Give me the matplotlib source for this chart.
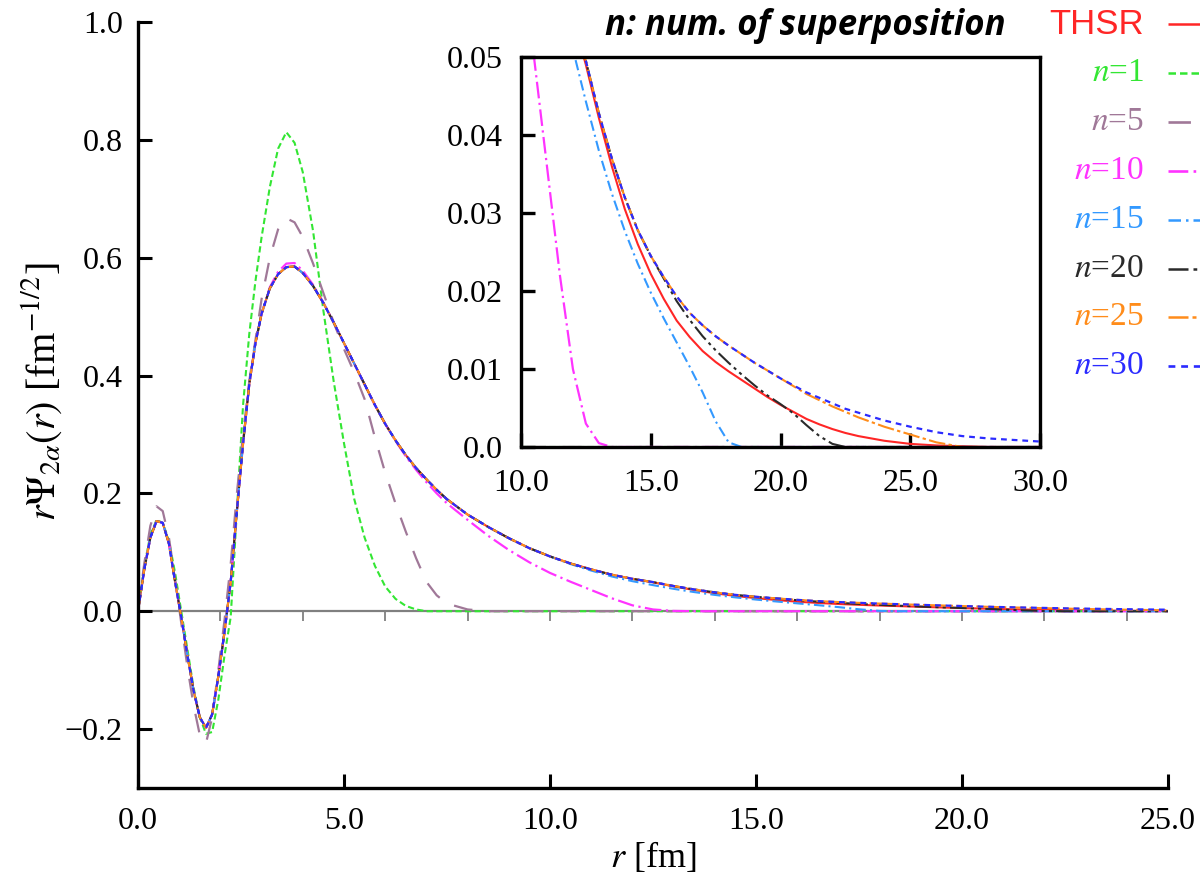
import numpy as np
import matplotlib
matplotlib.use('Agg')
import matplotlib.pyplot as plt
from matplotlib.lines import Line2D

# ---------------- data ----------------
R = [0, 0.15, 0.3, 0.45, 0.6, 0.75, 0.9, 1.05, 1.2, 1.35, 1.5, 1.65, 1.8, 1.95, 2.1, 2.25, 2.4, 2.55, 2.7, 2.85,
     3.0, 3.2, 3.4, 3.6, 3.8,
     4.0, 4.25, 4.5, 4.75, 5.0, 5.25, 5.5, 5.75, 6.0, 6.25, 6.5, 6.75, 7.0, 7.25, 7.5,
     8.0, 8.5, 9.0, 9.5, 10.0, 10.5, 11.0, 11.5, 12.0, 12.5, 13.0, 13.5, 14.0, 14.5, 15.0, 15.5, 16.0, 16.5,
     17.0, 17.5, 18.0, 18.5, 19.0, 19.5, 20.0, 20.5, 21.0, 21.5, 22.0, 22.5, 23.0,
     24.0, 25.0, 26.0, 27.0, 28.0, 29.0, 30.0]

thsr = [0, 0.07, 0.125, 0.153, 0.15, 0.115, 0.05, -0.01, -0.075, -0.135, -0.18, -0.198, -0.175, -0.11, -0.035, 0.05, 0.17, 0.285, 0.385, 0.455,
        0.505, 0.548, 0.572, 0.584, 0.585,
        0.574, 0.552, 0.523, 0.49, 0.455, 0.42, 0.385, 0.35, 0.318, 0.29, 0.265, 0.243, 0.224, 0.206, 0.19,
        0.164, 0.143, 0.124, 0.107, 0.093, 0.081, 0.071, 0.062, 0.055, 0.049, 0.0422, 0.036, 0.0305, 0.026, 0.0222, 0.019, 0.0162, 0.0141,
        0.0123, 0.0109, 0.0097, 0.0086, 0.0075, 0.0064, 0.0054, 0.0045, 0.0036, 0.0029, 0.0023, 0.0018, 0.0014,
        0.0008, 0.0004, 0.0002, 0.0001, 0, 0, 0]

n1 = [0, 0.075, 0.13, 0.155, 0.15, 0.12, 0.065, 0.0, -0.065, -0.13, -0.18, -0.208, -0.205, -0.15, -0.075, -0.01, 0.17, 0.35, 0.47, 0.56,
      0.635, 0.72, 0.785, 0.813, 0.795,
      0.745, 0.645, 0.51, 0.39, 0.285, 0.19, 0.125, 0.077, 0.042, 0.021, 0.009, 0.003, 0, 0, 0,
      0, 0, 0, 0, 0, 0, 0, 0, 0, 0, 0, 0, 0, 0, 0, 0, 0, 0,
      0, 0, 0, 0, 0, 0, 0, 0, 0, 0, 0, 0, 0,
      0, 0, 0, 0, 0, 0, 0]

n5 = [0, 0.08, 0.145, 0.178, 0.17, 0.125, 0.055, -0.02, -0.095, -0.16, -0.21, -0.224, -0.18, -0.1, -0.015, 0.08, 0.2, 0.3, 0.39, 0.46,
      0.53, 0.6, 0.648, 0.667, 0.66,
      0.635, 0.59, 0.54, 0.49, 0.445, 0.405, 0.36, 0.295, 0.235, 0.183, 0.135, 0.09, 0.05, 0.027, 0.013,
      0.003, 0, 0, 0, 0, 0, 0, 0, 0, 0, 0, 0, 0, 0, 0, 0, 0, 0,
      0, 0, 0, 0, 0, 0, 0, 0, 0, 0, 0, 0, 0,
      0, 0, 0, 0, 0, 0, 0]

n10 = [0, 0.07, 0.125, 0.153, 0.15, 0.115, 0.05, -0.01, -0.075, -0.135, -0.18, -0.198, -0.175, -0.11, -0.035, 0.05, 0.17, 0.285, 0.385, 0.455,
       0.505, 0.55, 0.576, 0.59, 0.591,
       0.578, 0.554, 0.524, 0.49, 0.455, 0.42, 0.385, 0.35, 0.318, 0.289, 0.263, 0.24, 0.219, 0.2, 0.183,
       0.155, 0.128, 0.104, 0.083, 0.065, 0.05, 0.036, 0.022, 0.01, 0.003, 0.0005, 0, 0, 0, 0, 0, 0, 0,
       0, 0, 0, 0, 0, 0, 0, 0, 0, 0, 0, 0, 0,
       0, 0, 0, 0, 0, 0, 0]

n15 = [0, 0.07, 0.125, 0.153, 0.15, 0.115, 0.05, -0.01, -0.075, -0.135, -0.18, -0.198, -0.175, -0.11, -0.035, 0.05, 0.17, 0.285, 0.385, 0.455,
       0.505, 0.548, 0.572, 0.584, 0.585,
       0.574, 0.552, 0.523, 0.49, 0.455, 0.42, 0.385, 0.35, 0.318, 0.29, 0.265, 0.243, 0.224, 0.206, 0.19,
       0.164, 0.143, 0.124, 0.107, 0.093, 0.08, 0.069, 0.059, 0.051, 0.0443, 0.038, 0.0325, 0.0277, 0.0235, 0.0198, 0.0165, 0.0134, 0.0103,
       0.007, 0.0033, 0.0006, 0, 0, 0, 0, 0, 0, 0, 0, 0, 0,
       0, 0, 0, 0, 0, 0, 0]

n20 = [0, 0.07, 0.125, 0.153, 0.15, 0.115, 0.05, -0.01, -0.075, -0.135, -0.18, -0.198, -0.175, -0.11, -0.035, 0.05, 0.17, 0.285, 0.385, 0.455,
       0.505, 0.548, 0.572, 0.584, 0.585,
       0.574, 0.552, 0.523, 0.49, 0.455, 0.42, 0.385, 0.35, 0.318, 0.29, 0.265, 0.243, 0.224, 0.206, 0.19,
       0.164, 0.143, 0.124, 0.107, 0.093, 0.081, 0.071, 0.062, 0.055, 0.0495, 0.0428, 0.037, 0.032, 0.0278, 0.0245, 0.0216, 0.0187, 0.0163,
       0.0142, 0.0124, 0.0108, 0.0093, 0.0079, 0.0066, 0.0055, 0.0043, 0.0028, 0.0014, 0.0004, 0, 0,
       0, 0, 0, 0, 0, 0, 0]

n25 = [0, 0.07, 0.125, 0.153, 0.15, 0.115, 0.05, -0.01, -0.075, -0.135, -0.18, -0.198, -0.175, -0.11, -0.035, 0.05, 0.17, 0.285, 0.385, 0.455,
       0.505, 0.548, 0.572, 0.584, 0.585,
       0.574, 0.552, 0.523, 0.49, 0.455, 0.42, 0.385, 0.35, 0.318, 0.29, 0.265, 0.243, 0.224, 0.206, 0.19,
       0.164, 0.143, 0.124, 0.107, 0.093, 0.081, 0.071, 0.062, 0.055, 0.0495, 0.0428, 0.037, 0.032, 0.0278, 0.0245, 0.0218, 0.0193, 0.0172,
       0.0156, 0.0142, 0.013, 0.0119, 0.0108, 0.0098, 0.0088, 0.0078, 0.0068, 0.006, 0.0052, 0.0045, 0.0038,
       0.0026, 0.0016, 0.0006, 0, 0, 0, 0]

n30 = [0, 0.07, 0.125, 0.153, 0.15, 0.115, 0.05, -0.01, -0.075, -0.135, -0.18, -0.198, -0.175, -0.11, -0.035, 0.05, 0.17, 0.285, 0.385, 0.455,
       0.505, 0.548, 0.572, 0.584, 0.585,
       0.574, 0.552, 0.523, 0.49, 0.455, 0.42, 0.385, 0.35, 0.318, 0.29, 0.265, 0.243, 0.224, 0.206, 0.19,
       0.164, 0.143, 0.124, 0.107, 0.093, 0.081, 0.071, 0.062, 0.055, 0.0495, 0.0428, 0.037, 0.032, 0.0278, 0.0245, 0.0218, 0.0193, 0.0172,
       0.0156, 0.0142, 0.013, 0.0119, 0.0108, 0.0098, 0.0088, 0.0079, 0.007, 0.0063, 0.0056, 0.0049, 0.0044,
       0.0034, 0.0026, 0.0019, 0.0014, 0.0011, 0.0009, 0.0007]

labels = ['THSR', '$n$=1', '$n$=5', '$n$=10', '$n$=15', '$n$=20', '$n$=25', '$n$=30']
series = [thsr, n1, n5, n10, n15, n20, n25, n30]

main_xticks = [0, 5, 10, 15, 20, 25]
main_yticks = [-0.2, 0.0, 0.2, 0.4, 0.6, 0.8, 1.0]
inset_xticks = [10, 15, 20, 25, 30]
inset_yticks = [0.0, 0.01, 0.02, 0.03, 0.04, 0.05]

# ---------------- styles ----------------
colors = ['#ff2626', '#33e633', '#a07898', '#ff33ff', '#3399ff', '#2a2a2a', '#ff8c1a', '#2b2bff']
dashes = [None, (3, 1.6), (8.5, 7.5), (7.5, 2, 1, 2), (5, 2, 1, 2), (8, 2, 1.5, 2, 1.5, 2), (8, 1.6, 1.6, 1.6), (2.6, 2.2)]
lws = [1.5, 1.5, 1.6, 1.6, 1.5, 1.5, 1.5, 1.6]

plt.rcParams['font.family'] = ['Liberation Serif', 'DejaVu Serif']
plt.rcParams['mathtext.fontset'] = 'stix'

W, H = 1200, 877
fig = plt.figure(figsize=(W / 100, H / 100), dpi=100)


def fx(px):
    return px / W


def fy(py):
    return 1 - py / H


def draw_series(ax):
    for vals, c, d, lw in zip(series, colors, dashes, lws):
        ln, = ax.plot(R, vals, color=c, lw=lw, solid_capstyle='butt', dash_capstyle='butt')
        if d is not None:
            ln.set_dashes(d)


# ---------------- main axes ----------------
ax = fig.add_axes([fx(138), fy(788), fx(1168) - fx(138), fy(22) - fy(788)])
ax.axhline(0, color='#808080', lw=1.6, zorder=1)
zt = np.arange(0, 25, 2)
ax.plot(zt, np.zeros_like(zt), ls='none', marker=3, ms=7, mew=1.3, color='#808080', zorder=1)
draw_series(ax)
ax.set_xlim(0, 25)
ax.set_ylim(-0.3, 1.0)
ax.spines['top'].set_visible(False)
ax.spines['right'].set_visible(False)
for s in ('left', 'bottom'):
    ax.spines[s].set_linewidth(2.4)
ax.set_xticks(main_xticks)
ax.set_xticklabels(['%.1f' % v for v in main_xticks])
ax.set_yticks(main_yticks)
ax.set_yticklabels([('%.1f' % v).replace('-', '\u2212') for v in main_yticks])
ax.tick_params(axis='both', direction='in', length=10, width=2.2, labelsize=23)
ax.tick_params(axis='x', pad=14)
ax.tick_params(axis='y', pad=11)

fig.text(fx(653), fy(857), r'$r$ [fm]', ha='center', va='center', fontsize=26)
fig.text(fx(42), fy(392), r'$r\mathit{\Psi}_{2\alpha}(r)$ [fm$^{-1/2}$]', ha='center', va='center',
         rotation=90, fontsize=29)

# ---------------- inset ----------------
axi = fig.add_axes([fx(521), fy(447), fx(1040) - fx(521), fy(57) - fy(447)])
draw_series(axi)
axi.set_xlim(10, 30)
axi.set_ylim(0, 0.05)
for s in axi.spines.values():
    s.set_linewidth(2.4)
axi.set_xticks(inset_xticks)
axi.set_xticklabels(['%.1f' % v for v in inset_xticks])
axi.set_yticks(inset_yticks)
axi.set_yticklabels(['0.0'] + ['%.2f' % v for v in inset_yticks[1:]])
axi.tick_params(axis='both', direction='in', length=10, width=2.4, labelsize=23)
axi.tick_params(axis='x', pad=16)
axi.tick_params(axis='y', pad=13)

# ---------------- legend (manual, clipped by figure edge) ----------------
rows = [24, 73, 122, 171, 220, 269, 317, 366]
for lab, c, d, lw, y in zip(labels, colors, dashes, lws, rows):
    if lab == 'THSR':
        fig.text(fx(1144), fy(y), lab, ha='right', va='center', color=c, fontsize=25,
                 family=['Liberation Sans', 'DejaVu Sans'])
    else:
        fig.text(fx(1144), fy(y), lab, ha='right', va='center', color=c, fontsize=24)
    ln = Line2D([fx(1168), fx(1260)], [fy(y), fy(y)], transform=fig.transFigure, color=c, lw=lw + 0.3,
                solid_capstyle='butt', dash_capstyle='butt')
    if d is not None:
        ln.set_dashes(d)
    fig.add_artist(ln)

fig.text(fx(805), fy(26), 'n: num. of superposition', ha='center', va='center', fontsize=25,
         family=['Open Sans', 'DejaVu Sans'], weight='bold', style='italic')

fig.savefig('out.png', dpi=100)
